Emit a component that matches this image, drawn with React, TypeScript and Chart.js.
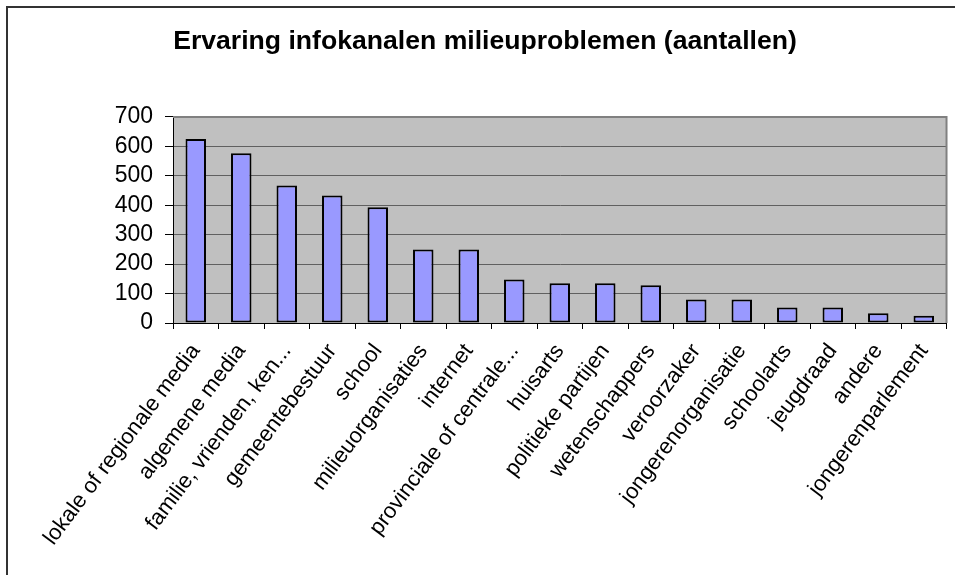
import React, { useEffect, useRef } from "react";
import { Chart, registerables } from "chart.js";

Chart.register(...registerables);

const title = "Ervaring infokanalen milieuproblemen (aantallen)";
const categories = [
  "lokale of regionale media",
  "algemene media",
  "familie, vrienden, ken...",
  "gemeentebestuur",
  "school",
  "milieuorganisaties",
  "internet",
  "provinciale of centrale...",
  "huisarts",
  "politieke partijen",
  "wetenschappers",
  "veroorzaker",
  "jongerenorganisatie",
  "schoolarts",
  "jeugdraad",
  "andere",
  "jongerenparlement",
];
const values = [625, 577, 467, 433, 393, 250, 250, 148, 135, 135, 128, 80, 80, 53, 53, 33, 25];
const yMin = 0;
const yMax = 700;
const yStep = 100;

const FONT = 'Arial, "Liberation Sans", sans-serif';

const plotBg = {
  id: "plotBg",
  beforeDraw(chart: any) {
    const { ctx, chartArea: a } = chart;
    ctx.save();
    ctx.fillStyle = "#C0C0C0";
    ctx.fillRect(a.left, a.top, a.right - a.left, a.bottom - a.top);
    ctx.restore();
  },
  beforeDatasetsDraw(chart: any) {
    const { ctx, chartArea: a } = chart;
    ctx.save();
    ctx.strokeStyle = "#808080";
    ctx.lineWidth = 2;
    ctx.beginPath();
    ctx.moveTo(a.left, a.top);
    ctx.lineTo(a.right, a.top);
    ctx.lineTo(a.right, a.bottom);
    ctx.stroke();
    ctx.restore();
  },
};

export default function App() {
  const ref = useRef<HTMLCanvasElement>(null);
  useEffect(() => {
    if (!ref.current) return;
    const chart = new Chart(ref.current, {
      type: "bar",
      data: {
        labels: categories,
        datasets: [
          {
            data: values,
            backgroundColor: "#9999FF",
            borderColor: "#000000",
            borderWidth: 2,
            borderSkipped: false,
            barPercentage: 0.45,
            categoryPercentage: 1,
          },
        ],
      },
      options: {
        responsive: false,
        animation: false,
        devicePixelRatio: 1,
        layout: { padding: { left: 20, right: 5, top: 0, bottom: 0 } },
        plugins: {
          legend: { display: false },
          tooltip: { enabled: false },
          title: {
            display: true,
            text: title,
            color: "#000",
            font: { family: FONT, size: 26.6, weight: "bold", lineHeight: 1.2 },
            padding: { top: 26, bottom: 59 },
          },
        },
        scales: {
          x: {
            offset: true,
            grid: {
              display: true,
              drawOnChartArea: false,
              offset: true,
              tickLength: 6,
              tickColor: "#000",
              lineWidth: 1,
            },
            border: { color: "#000", width: 1 },
            ticks: {
              color: "#000",
              font: { family: FONT, size: 22 },
              minRotation: 53,
              maxRotation: 53,
              padding: 10,
              autoSkip: false,
            },
            afterFit(scale: any) {
              scale.height = 252;
            },
          },
          y: {
            min: yMin,
            max: yMax,
            grid: {
              color: "#606060",
              tickColor: "#000",
              tickLength: 8,
              lineWidth: 1,
            },
            border: { color: "#000", width: 1 },
            ticks: {
              stepSize: yStep,
              autoSkip: false,
              color: "#000",
              font: { family: FONT, size: 23 },
              padding: 12,
            },
            afterFit(scale: any) {
              scale.width = 153;
            },
          },
        },
      },
      plugins: [plotBg],
    });
    return () => chart.destroy();
  }, []);

  return (
    <div style={{ position: "fixed", left: 0, top: 0, width: 955, height: 575, background: "#fff" }}>
      <div
        style={{
          position: "absolute",
          left: 6,
          top: 6,
          width: 949,
          height: 569,
          boxSizing: "border-box",
          borderTop: "2px solid #333",
          borderLeft: "2px solid #333",
        }}
      />
      <canvas
        ref={ref}
        width={955}
        height={575}
        style={{ position: "absolute", left: 0, top: 0, width: 955, height: 575 }}
      />
    </div>
  );
}
